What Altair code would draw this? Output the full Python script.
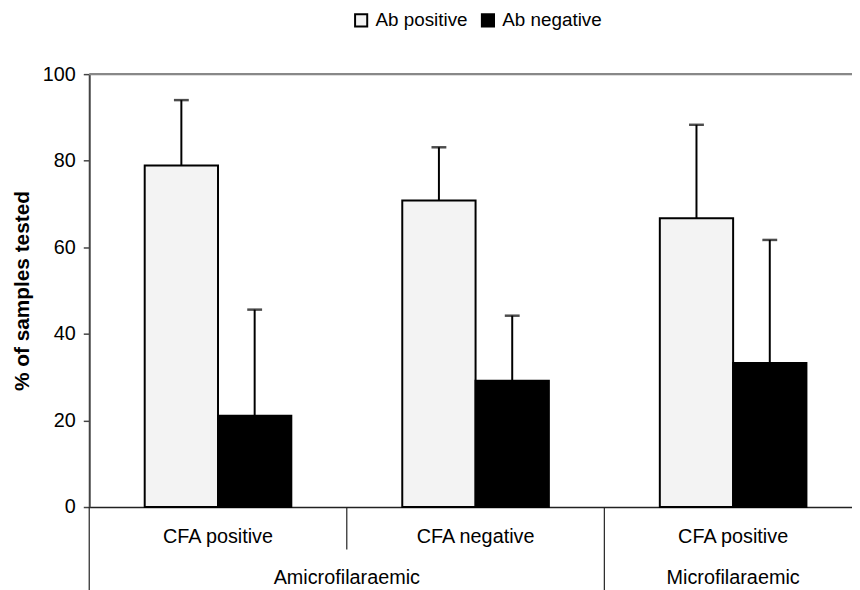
import altair as alt
import pandas as pd

# ---- data ----
sub_labels = ["CFA positive", "CFA negative", "CFA positive"]
group_labels = ["Amicrofilaraemic", "Amicrofilaraemic", "Microfilaraemic"]
series = ["Ab positive", "Ab negative"]
ab_pos = [78.9, 70.8, 66.7]
ab_neg = [21.1, 29.2, 33.3]
pos_upper = [94.0, 83.1, 88.3]
neg_upper = [45.6, 44.2, 61.7]
y_ticks = [0, 20, 40, 60, 80, 100]

cat_keys = [f"{g}|{s}|{i}" for i, (g, s) in enumerate(zip(group_labels, sub_labels))]

rows = []
for i, k in enumerate(cat_keys):
    rows.append({"cat": k, "series": series[0], "value": ab_pos[i], "upper": pos_upper[i]})
    rows.append({"cat": k, "series": series[1], "value": ab_neg[i], "upper": neg_upper[i]})
bars_df = pd.DataFrame(rows)

# category-axis decoration tables (built from the label lists)
n = len(sub_labels)
cat_df = pd.DataFrame({
    "idx": list(range(n)),
    "center": [i + 0.5 for i in range(n)],
    "label": sub_labels,
    "newgroup": [i == 0 or group_labels[i] != group_labels[i - 1] for i in range(n)],
})
groups = []
for g in dict.fromkeys(group_labels):
    ids = [i for i, x in enumerate(group_labels) if x == g]
    groups.append({"group": g, "mid": (ids[0] + ids[-1] + 1) / 2})
group_df = pd.DataFrame(groups)
frame_df = pd.DataFrame({"x0": [0], "x1": [n], "ytop": [100]})

W, H = 770, 437
FULL = 780
FONT = "Liberation Sans"

xband = alt.X("cat:N", sort=cat_keys,
              scale=alt.Scale(range=[0, FULL], paddingInner=0.4308, paddingOuter=0.2154),
              axis=alt.Axis(labels=False, ticks=False, title=None,
                            domainColor="#222", domainWidth=1.5))
xoff = alt.XOffset("series:N", sort=series, scale=alt.Scale(paddingInner=0, paddingOuter=0))
yq = alt.Y("value:Q", scale=alt.Scale(domain=[0, 100], nice=False),
           axis=alt.Axis(values=y_ticks, title="% of samples tested", grid=False,
                         domainColor="#444", domainWidth=2, tickColor="#444",
                         tickWidth=1.5, tickSize=6, labelPadding=8,
                         labelFontSize=20, labelColor="black", labelFont=FONT,
                         titleFont=FONT, titleFontSize=21, titleFontWeight="bold",
                         titleColor="black", titlePadding=10))

bars = alt.Chart(bars_df).mark_bar(stroke="black", strokeWidth=2).encode(
    x=xband, xOffset=xoff, y=yq,
    fill=alt.Fill("series:N", sort=series,
                  scale=alt.Scale(domain=series, range=["#f3f3f3", "black"]),
                  legend=alt.Legend(title=None, orient="none", direction="horizontal",
                                    legendX=265, legendY=-64, symbolType="square",
                                    symbolSize=150, symbolStrokeColor="black",
                                    symbolStrokeWidth=2, labelFontSize=19,
                                    labelFont=FONT, labelColor="black",
                                    labelOffset=5, columnPadding=10, padding=0)),
)
stems = alt.Chart(bars_df).mark_rule(color="black", strokeWidth=2).encode(
    x=xband, xOffset=xoff, y="value:Q", y2="upper:Q")
caps = alt.Chart(bars_df).mark_tick(color="black", thickness=2.5, size=15).encode(
    x=xband, xOffset=xoff, y="upper:Q")

main = alt.layer(bars, stems, caps)

xq = lambda f: alt.X(f, type="quantitative", scale=alt.Scale(domain=[0, n], range=[0, FULL]), axis=None)

top_line = alt.Chart(frame_df).mark_rule(color="#888", strokeWidth=2.5).encode(
    x=xq("x0"), x2="x1:Q", y=alt.Y("ytop:Q"))
sub_text = alt.Chart(cat_df).mark_text(font=FONT, fontSize=20, color="black",
                                       baseline="alphabetic", align="center").encode(
    x=xq("center"), y=alt.value(H + 36), text="label:N")
long_div = alt.Chart(cat_df).transform_filter("datum.newgroup").mark_rule(
    color="#222", strokeWidth=1.2).encode(x=xq("idx"), y=alt.value(H), y2=alt.value(H + 100))
short_div = alt.Chart(cat_df).transform_filter("!datum.newgroup").mark_rule(
    color="#222", strokeWidth=1.2).encode(x=xq("idx"), y=alt.value(H), y2=alt.value(H + 43))
grp_text = alt.Chart(group_df).mark_text(font=FONT, fontSize=20, color="black",
                                         baseline="alphabetic", align="center").encode(
    x=xq("mid"), y=alt.value(H + 78), text="group:N")

decor = alt.layer(top_line, sub_text, long_div, short_div, grp_text)

chart = alt.layer(main, decor).resolve_scale(x="independent").properties(
    width=W, height=H,
    padding={"left": 82, "top": 64, "right": 0, "bottom": 81},
    autosize=alt.AutoSizeParams(type="none"),
).configure_view(strokeWidth=0).configure(background="white")

chart.save("out.html", embed_options={"renderer": "svg", "actions": False})
